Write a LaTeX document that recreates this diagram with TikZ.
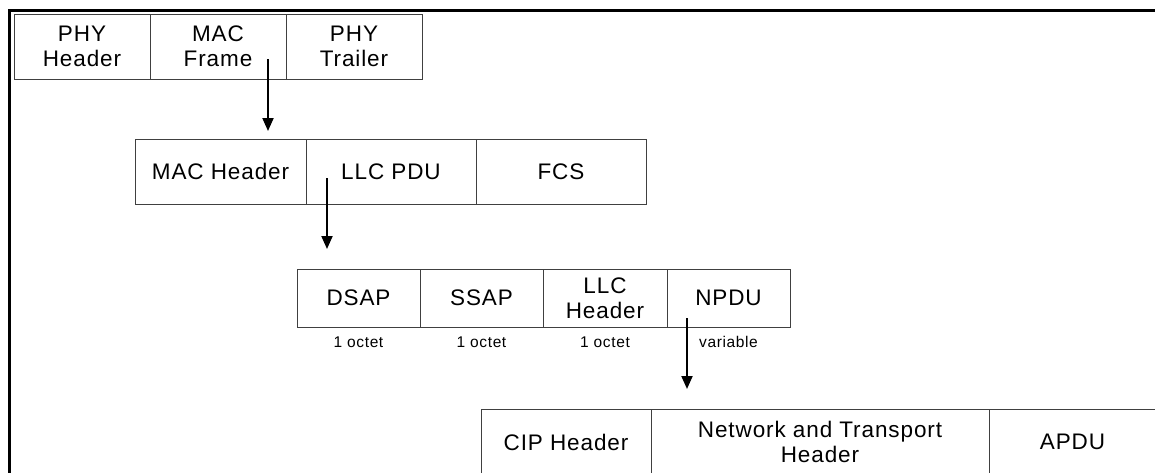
\documentclass[tikz,border=0pt]{standalone}
\usepackage{fontspec}
\setmainfont[LetterSpace=4]{Liberation Sans}
\usetikzlibrary{arrows.meta}

\tikzset{
  cell/.style={draw=black!75, line width=1pt, inner sep=0pt, align=center,
    font=\fontsize{22.5}{25.5}\selectfont},
  note/.style={inner sep=0pt, anchor=base, font=\fontsize{15.5}{18}\selectfont},
  flow/.style={line width=2pt, -{Triangle[width=11pt,length=13pt]}},
  frame/.style={line width=3pt, line cap=rect}
}

\begin{document}
\begin{tikzpicture}[x=1pt, y=-1pt]
  \useasboundingbox (0,0) rectangle (1155,472);
  \clip (0,0) rectangle (1155,472);

  % outer frame (open to the right and bottom)
  \draw[frame] (9.5,480) -- (9.5,10.5) -- (1170,10.5);

  % physical layer frame
  \node[cell, minimum width=136pt, minimum height=65pt] (phyh) at (82,46.5)  {PHY\\Header};
  \node[cell, minimum width=136pt, minimum height=65pt] (macf) at (218,46.5) {MAC\\Frame};
  \node[cell, minimum width=136pt, minimum height=65pt] (phyt) at (354,46.5) {PHY\\Trailer};

  % MAC frame
  \node[cell, minimum width=171pt, minimum height=65pt] (mach) at (220.5,171.5) {MAC Header};
  \node[cell, minimum width=170pt, minimum height=65pt] (llcp) at (391,171.5)   {LLC PDU};
  \node[cell, minimum width=170pt, minimum height=65pt] (fcs)  at (561,171.5)   {FCS};

  % LLC PDU
  \node[cell, minimum width=123pt, minimum height=58pt] (dsap) at (358.5,298) {DSAP};
  \node[cell, minimum width=123pt, minimum height=58pt] (ssap) at (481.5,298) {SSAP};
  \node[cell, minimum width=124pt, minimum height=58pt] (llch) at (605,298)   {LLC\\Header};
  \node[cell, minimum width=123pt, minimum height=58pt] (npdu) at (728.5,298) {NPDU};

  \node[note] (o1) at (358.5,347) {1 octet};
  \node[note] (o2) at (481.5,347) {1 octet};
  \node[note] (o3) at (605,347)   {1 octet};
  \node[note] (ov) at (728.5,347) {variable};

  % NPDU contents
  \node[cell, minimum width=170pt, minimum height=66pt] (ciph) at (566,442)   {CIP Header};
  \node[cell, minimum width=338pt, minimum height=66pt] (ntwk) at (820,442)   {Network and Transport\\Header};
  \node[cell, minimum width=167pt, minimum height=66pt] (apdu) at (1072.5,442) {APDU};

  % expansion arrows
  \coordinate (s1) at (268,59);  \coordinate (e1) at (268,131);
  \coordinate (s2) at (327,178); \coordinate (e2) at (327,249);
  \coordinate (s3) at (687,318); \coordinate (e3) at (687,389);
  \draw[flow] (s1) -- (e1);
  \draw[flow] (s2) -- (e2);
  \draw[flow] (s3) -- (e3);
\end{tikzpicture}
\end{document}
